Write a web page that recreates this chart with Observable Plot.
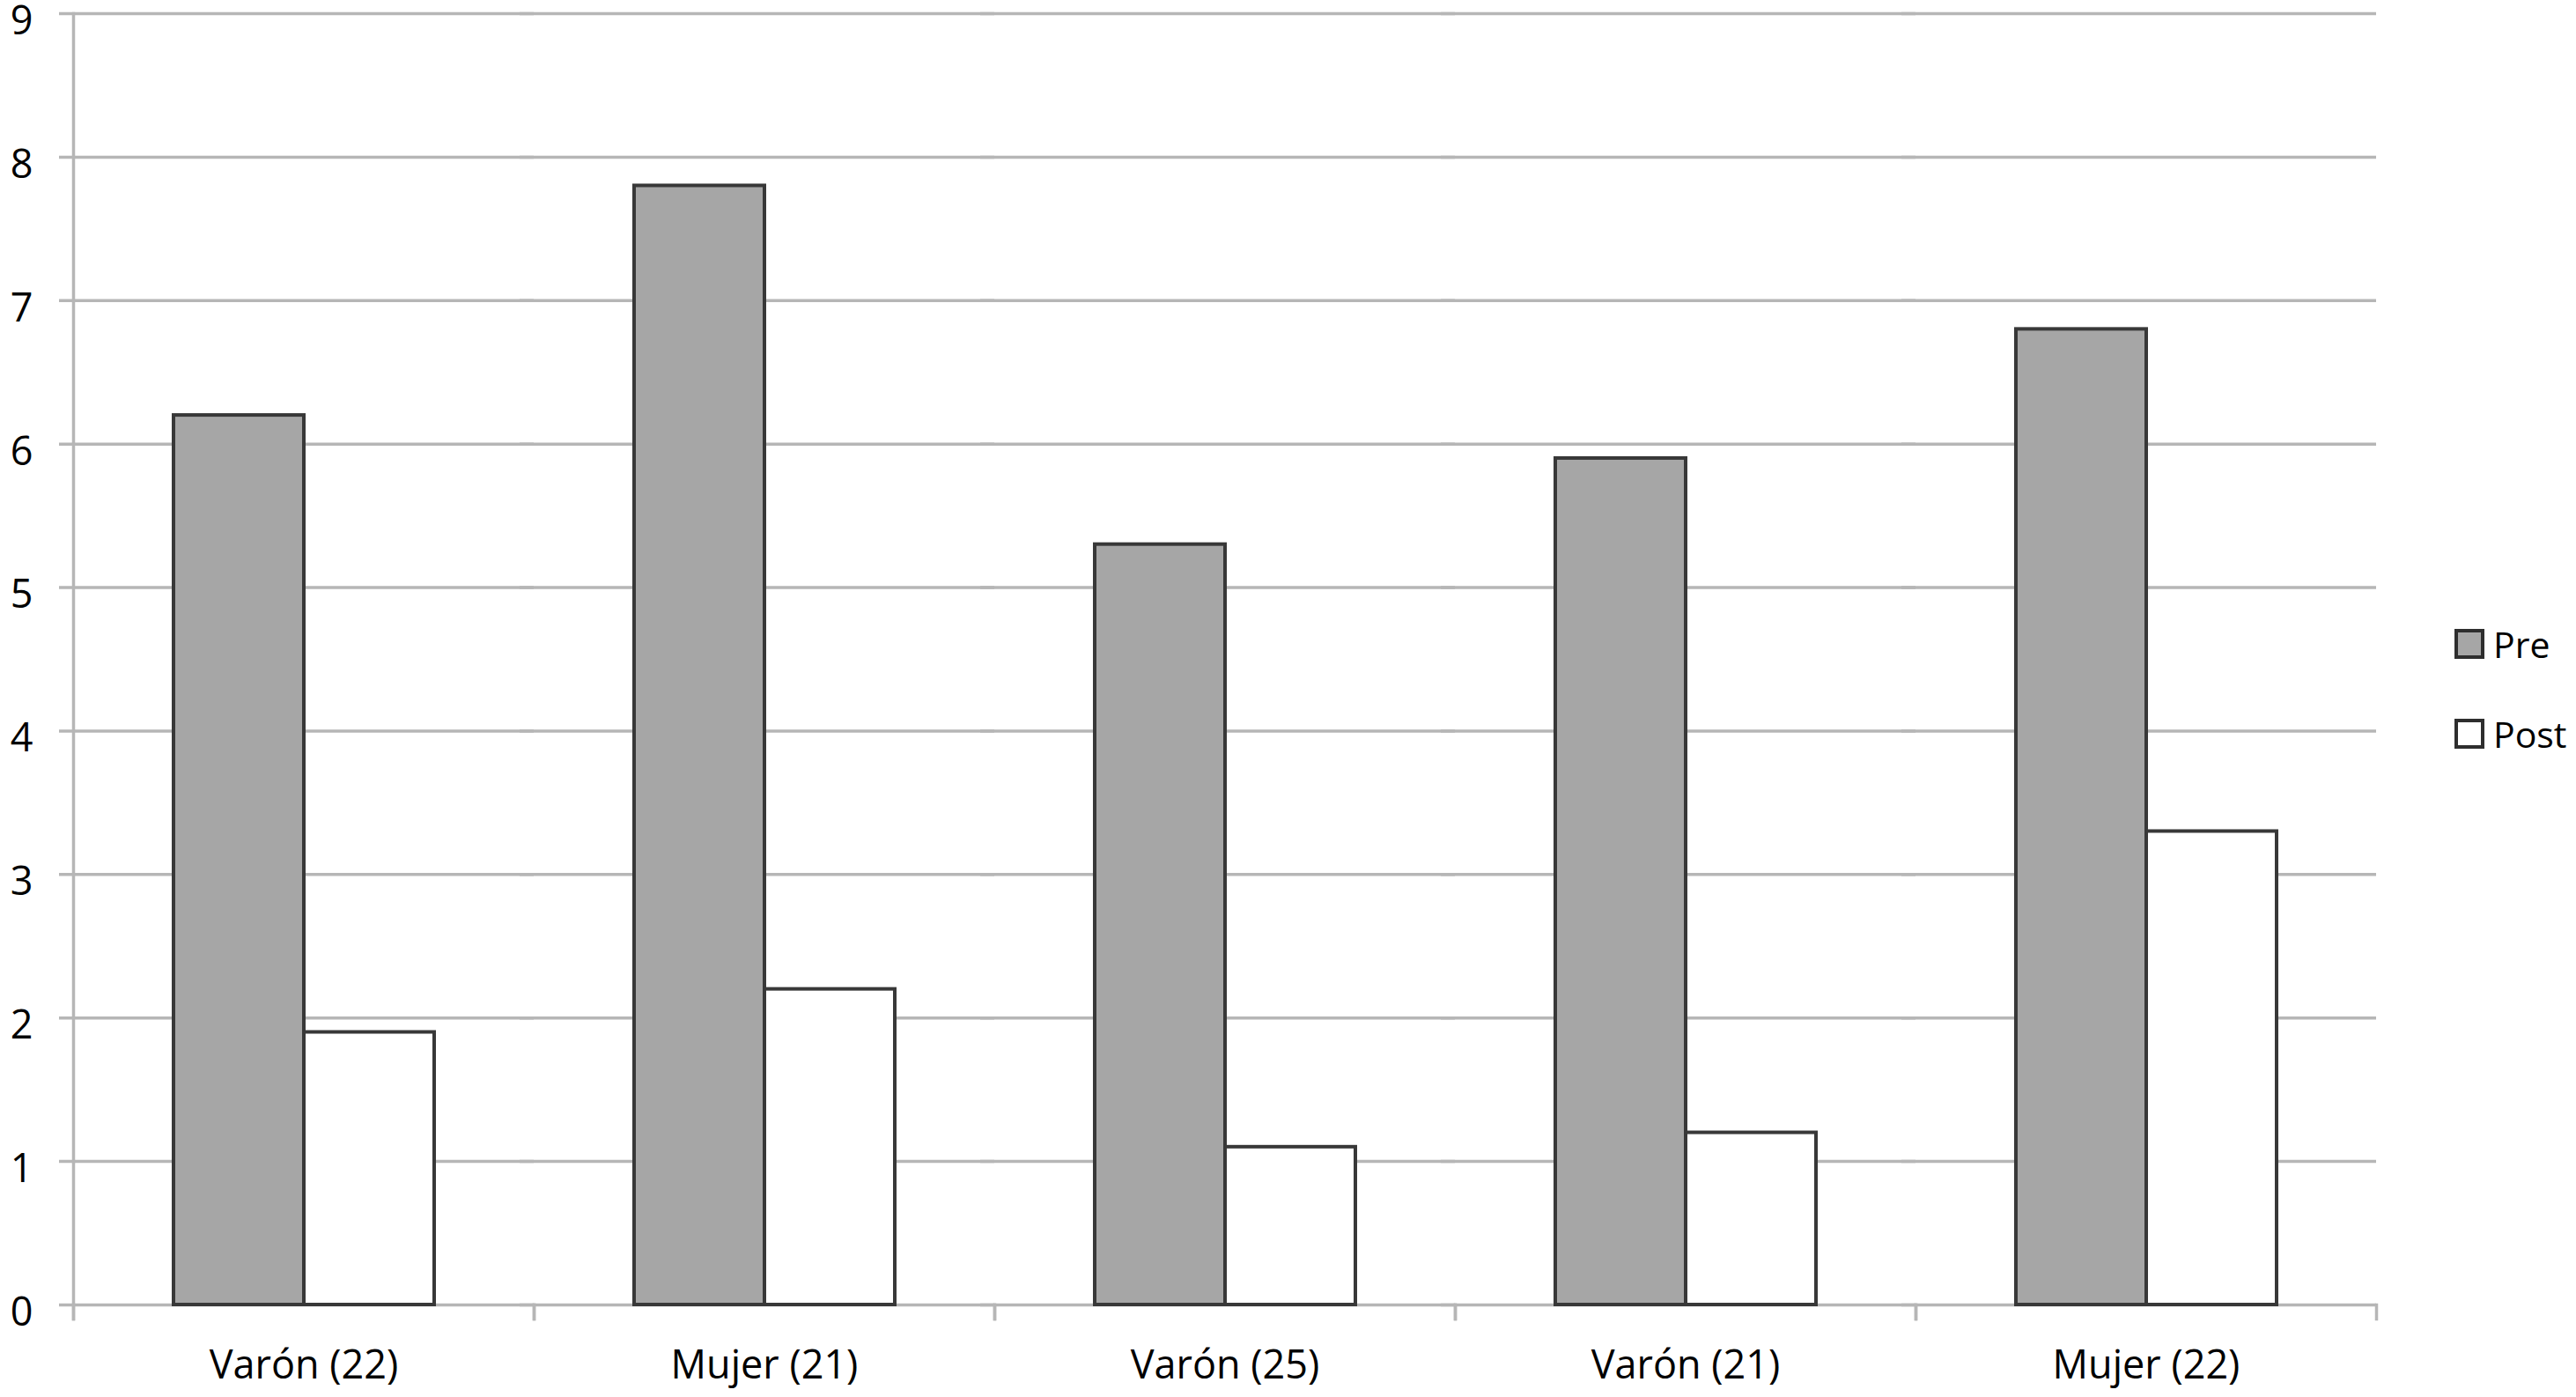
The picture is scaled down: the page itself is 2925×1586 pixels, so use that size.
<!DOCTYPE html>
<html>
<head>
<meta charset="utf-8">
<script src="https://cdn.jsdelivr.net/npm/d3@7"></script>
<script src="https://cdn.jsdelivr.net/npm/@observablehq/plot@0.6"></script>
<style>
  html, body { margin: 0; padding: 0; background: #fff; overflow: hidden; }
  #wrap { position: relative; width: 2925px; height: 1586px; font-family: "Open Sans", sans-serif; }
  #wrap svg { display: block; overflow: visible; }
  #legend { position: absolute; left: 2787px; top: 713px; }
  .item { display: flex; align-items: center; height: 36px; margin-bottom: 66px; font-size: 41px; color: #000; }
  .sw { width: 26px; height: 26px; border: 4px solid #2e2e2e; margin-right: 10px; box-sizing: content-box; }
</style>
</head>
<body>
<div id="wrap"><div id="legend"></div></div>
<script>
const categories = ["Varón (22)", "Mujer (21)", "Varón (25)", "Varón (21)", "Mujer (22)"];
const seriesNames = ["Pre", "Post"];
const preValues = [6.2, 7.8, 5.3, 5.9, 6.8];
const postValues = [1.9, 2.2, 1.1, 1.2, 3.3];
const yTicks = [0, 1, 2, 3, 4, 5, 6, 7, 8, 9];
const seriesColors = ["#a6a6a6", "#ffffff"];

const data = categories.flatMap((c, i) => [
  {cat: c, serie: "Pre", value: preValues[i]},
  {cat: c, serie: "Post", value: postValues[i]}
]);

const W = 2925, H = 1586, mL = 82, mR = 226, mT = 15, mB = 105;
const plotH = H - mT - mB;
const gridColor = "#b6b6b6";

const chart = Plot.plot({
  width: W, height: H,
  marginLeft: mL, marginRight: mR, marginTop: mT, marginBottom: mB,
  style: {fontFamily: "Open Sans", background: "#fff", color: "#000"},
  fx: {domain: categories, padding: 0, label: null},
  x: {domain: seriesNames, paddingInner: 0, paddingOuter: 0.756, axis: null},
  y: {domain: [0, 9], ticks: yTicks, label: null},
  color: {domain: seriesNames, range: seriesColors},
  marks: [
    Plot.gridY(yTicks, {stroke: gridColor, strokeOpacity: 1, strokeWidth: 3.5, insetLeft: -16}),
    Plot.axisY(yTicks, {tickSize: 0, tickPadding: 46, tickFormat: (d) => String(d), fill: "#000", fontSize: 45, dy: 9, label: null}),
    Plot.frame({anchor: "left", facet: "super", insetBottom: -16, stroke: gridColor, strokeWidth: 3.5}),
    Plot.frame({anchor: "left", insetTop: plotH, insetBottom: -16, stroke: gridColor, strokeWidth: 3.5}),
    Plot.frame({anchor: "right", insetTop: plotH, insetBottom: -16, stroke: gridColor, strokeWidth: 3.5}),
    Plot.barY(data, {fx: "cat", x: "serie", y: "value", fill: "serie", stroke: "#383838", strokeWidth: 4}),
    Plot.axisFx({anchor: "bottom", tickSize: 0, tickPadding: 52, fontSize: 45, fill: "#000", label: null})
  ]
});
document.getElementById("wrap").prepend(chart);

const legend = document.getElementById("legend");
seriesNames.forEach((s, i) => {
  const item = document.createElement("div");
  item.className = "item";
  const sw = document.createElement("div");
  sw.className = "sw";
  sw.style.background = seriesColors[i];
  const t = document.createElement("span");
  t.textContent = s;
  item.append(sw, t);
  legend.append(item);
});
</script>
</body>
</html>
